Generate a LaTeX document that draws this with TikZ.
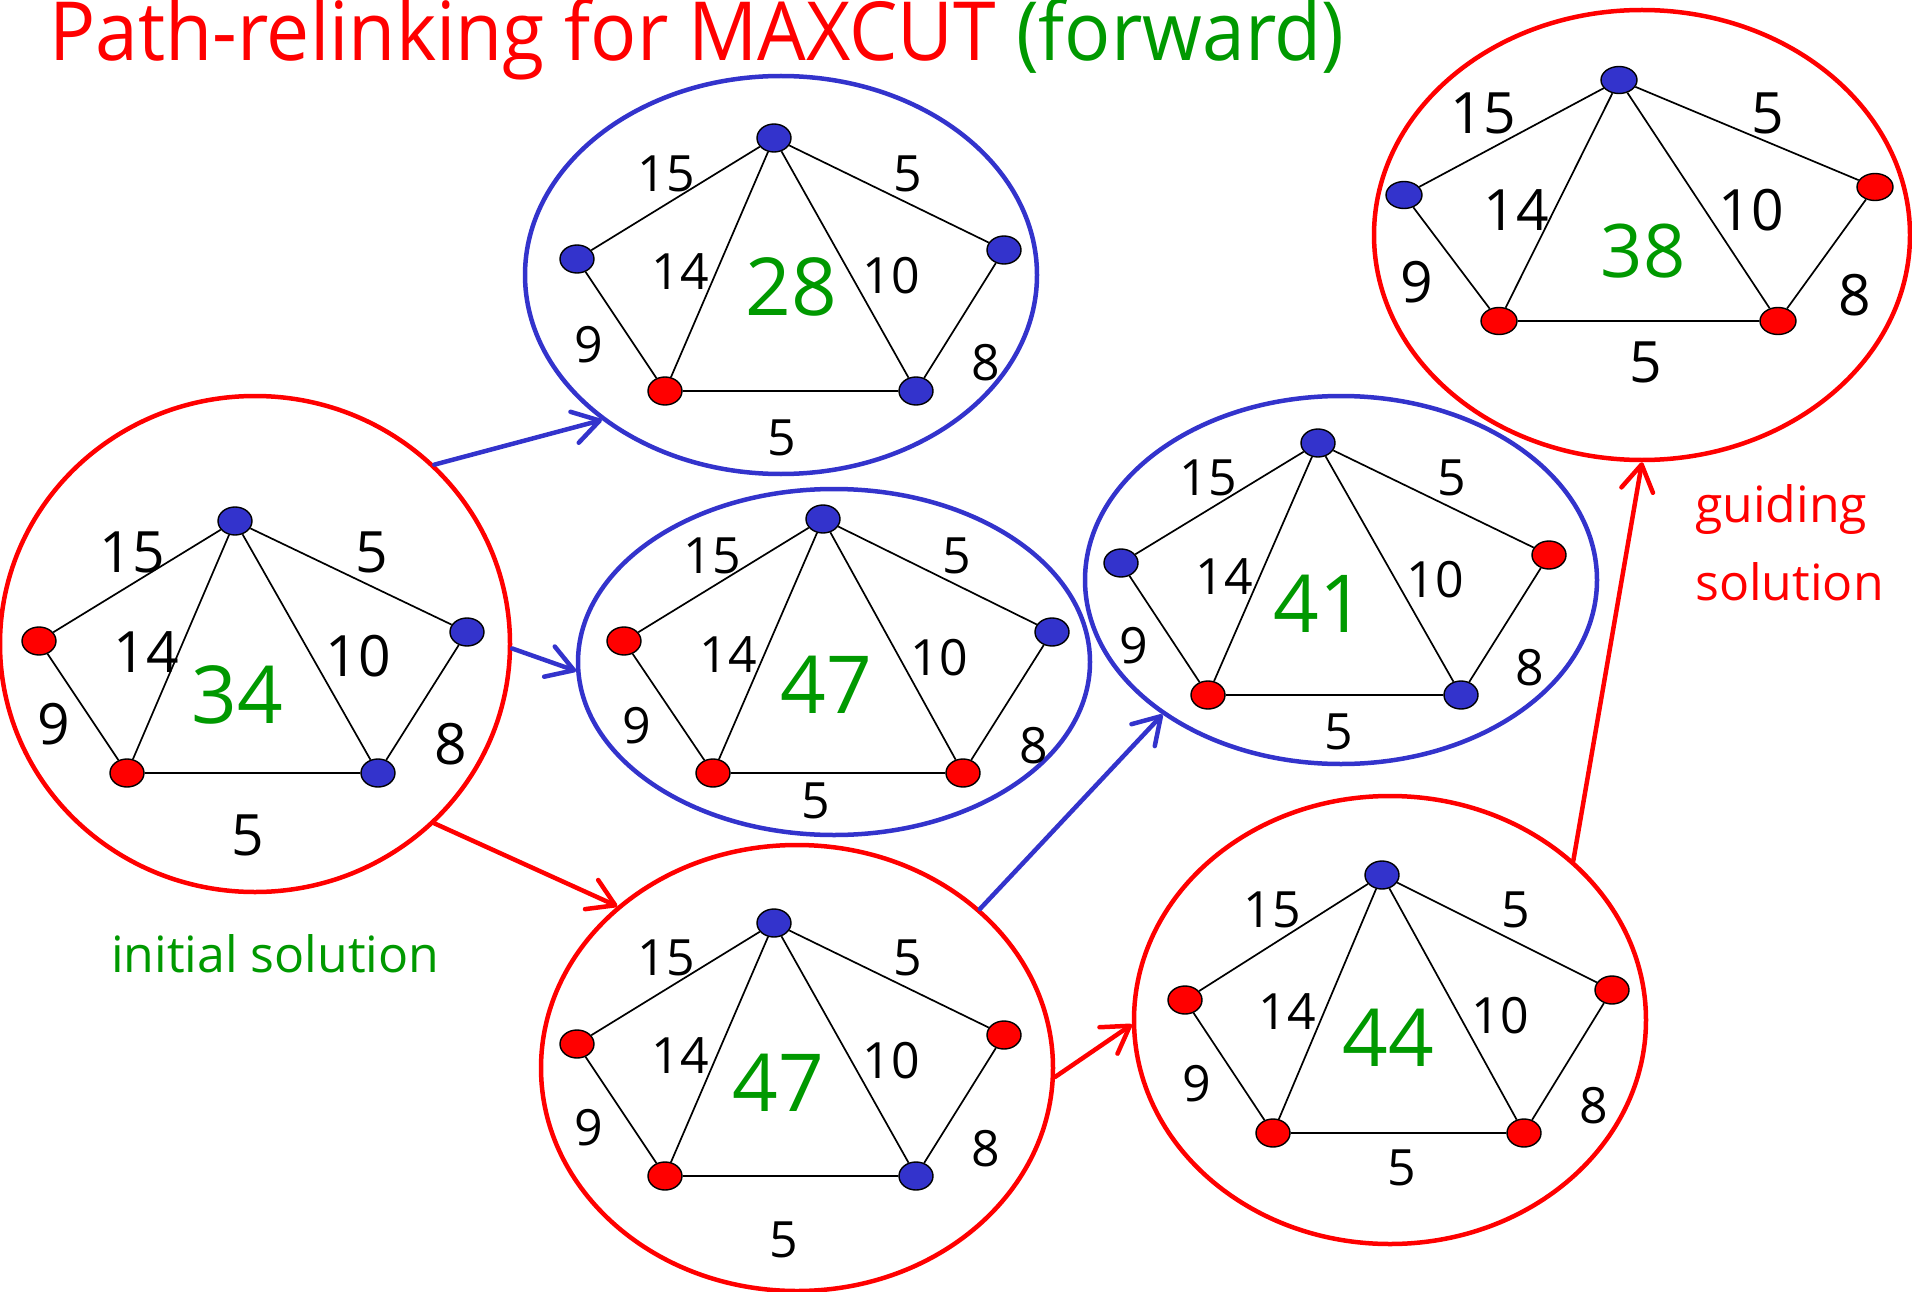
\documentclass[tikz,border=0pt]{standalone}
\usepackage{fontspec}
\setmainfont{Open Sans}
\usepackage{graphicx}
\usetikzlibrary{shapes.geometric,arrows.meta}
\definecolor{myred}{RGB}{255,0,0}
\definecolor{myblue}{RGB}{51,51,204}
\definecolor{grn}{RGB}{0,153,0}
\newcommand{\mcedges}[1]{\draw[gedge] (#1t) -- (#1l) (#1t) -- (#1r) (#1t) -- (#1a) (#1t) -- (#1b) (#1l) -- (#1a) (#1a) -- (#1b) (#1b) -- (#1r);}
\newcommand{\mclabels}[9]{%
 \node[#2] (#1w15) at (#3) {15};
 \node[#2] (#1w5) at (#4) {5};
 \node[#2] (#1w14) at (#5) {14};
 \node[#2] (#1w10) at (#6) {10};
 \node[#2] (#1w9) at (#7) {9};
 \node[#2] (#1w8) at (#8) {8};
 \node[#2] (#1w5b) at (#9) {5};}
\begin{document}
\begin{tikzpicture}[x=1pt,y=-1pt,
 vtx/.style={ellipse, draw=black, line width=1.4pt, minimum width=34pt, minimum height=28pt, inner sep=0pt},
 rv/.style={vtx, fill=myred},
 bv/.style={vtx, fill=myblue},
 gedge/.style={line width=1.7pt, black},
 wl/.style={font=\fontsize{50}{50}\selectfont, inner sep=0pt},
 wlbig/.style={font=\fontsize{57}{57}\selectfont, inner sep=0pt},
 cnum/.style={text=grn, font=\fontsize{80}{80}\selectfont, inner sep=0pt},
 bigell/.style={ellipse, line width=4.5pt, inner sep=0pt},
 redell/.style={bigell, draw=myred},
 blueell/.style={bigell, draw=myblue},
 arr/.style={line width=4.5pt, line cap=round, -{Straight Barb[length=26pt,width=32pt,round]}}]
\useasboundingbox (0,0) rectangle (1912,1292);
\fill[white] (0,0) rectangle (1912,1292);
% title
\node[anchor=base west, inner sep=0pt] (title) at (49,61) {\scalebox{0.96}[1.02]{\fontsize{80}{80}\selectfont\color{myred}Path-relinking for MAXCUT \color{grn}(forward)}};
% big ellipses
\node[redell, minimum width=510pt, minimum height=496pt] (e1) at (255,644) {};
\node[blueell, minimum width=512pt, minimum height=398pt] (e2) at (781,275) {};
\node[blueell, minimum width=512pt, minimum height=346pt] (e3) at (834,662) {};
\node[redell, minimum width=512pt, minimum height=446pt] (e4) at (797,1068) {};
\node[blueell, minimum width=512pt, minimum height=368pt] (e5) at (1341,580) {};
\node[redell, minimum width=512pt, minimum height=448pt] (e6) at (1390,1020) {};
\node[redell, minimum width=536pt, minimum height=450pt] (e7) at (1642,235) {};
% graph 1
\node[bv] (gat) at (235,521) {};
\node[rv] (gal) at (39,641) {};
\node[rv] (gaa) at (127,773) {};
\node[bv] (gab) at (378,773) {};
\node[bv] (gar) at (467,632) {};
\mcedges{ga}
\mclabels{ga}{wlbig}{132,552}{372,552}{146,652}{358,656}{54,724}{451,744}{248,835}
\node[cnum] (gac) at (237,695) {34};
% graph 2
\node[bv] (gbt) at (774,138) {};
\node[bv] (gbl) at (577,259) {};
\node[rv] (gba) at (665,391) {};
\node[bv] (gbb) at (916,391) {};
\node[bv] (gbr) at (1004,250) {};
\mcedges{gb}
\mclabels{gb}{wl}{666,174}{908,174}{680,272}{891,276}{589,345}{986,363}{782,438}
\node[cnum] (gbc) at (791,287) {28};
% graph 3
\node[bv] (gct) at (823,519) {};
\node[rv] (gcl) at (624,641) {};
\node[rv] (gca) at (713,773) {};
\node[rv] (gcb) at (963,773) {};
\node[bv] (gcr) at (1052,632) {};
\mcedges{gc}
\mclabels{gc}{wl}{712,556}{957,556}{728,655}{939,658}{637,726}{1034,746}{816,801}
\node[cnum] (gcc) at (826,685) {47};
% graph 4
\node[bv] (gdt) at (774,923) {};
\node[rv] (gdl) at (577,1044) {};
\node[rv] (gda) at (665,1176) {};
\node[bv] (gdb) at (916,1176) {};
\node[rv] (gdr) at (1004,1035) {};
\mcedges{gd}
\mclabels{gd}{wl}{666,958}{908,958}{680,1056}{891,1061}{589,1128}{986,1149}{784,1240}
\node[cnum] (gdc) at (778,1083) {47};
% graph 5
\node[bv] (get) at (1318,443) {};
\node[bv] (gel) at (1121,563) {};
\node[rv] (gea) at (1208,695) {};
\node[bv] (geb) at (1461,695) {};
\node[rv] (ger) at (1549,555) {};
\mcedges{ge}
\mclabels{ge}{wl}{1208,478}{1452,478}{1224,577}{1435,580}{1134,646}{1530,668}{1339,732}
\node[cnum] (gec) at (1319,604) {41};
% graph 6
\node[bv] (gft) at (1382,875) {};
\node[rv] (gfl) at (1185,1000) {};
\node[rv] (gfa) at (1273,1133) {};
\node[rv] (gfb) at (1524,1133) {};
\node[rv] (gfr) at (1612,990) {};
\mcedges{gf}
\mclabels{gf}{wl}{1272,910}{1516,910}{1287,1012}{1500,1016}{1197,1084}{1594,1106}{1402,1168}
\node[cnum] (gfc) at (1388,1038) {44};
% graph 7
\node[bv, minimum width=36pt, minimum height=27pt] (ggt) at (1619,80) {};
\node[bv, minimum width=36pt, minimum height=27pt] (ggl) at (1404,195) {};
\node[rv, minimum width=36pt, minimum height=27pt] (gga) at (1499,321) {};
\node[rv, minimum width=36pt, minimum height=27pt] (ggb) at (1778,321) {};
\node[rv, minimum width=36pt, minimum height=27pt] (ggr) at (1875,187) {};
\mcedges{gg}
\mclabels{gg}{wlbig}{1483,113}{1768,113}{1516,210}{1751,210}{1417,282}{1855,295}{1646,362}
\node[cnum, font=\fontsize{74}{74}\selectfont] (ggc) at (1643,251) {38};
% arrows
\draw[arr, myblue] (e1.45) -- (e2.219);
\draw[arr, myblue] (e1.-1) -- (e3.182);
\draw[arr, myred] (e1.-45) -- (e4.138);
\draw[arr, myblue] (e4.41) -- (e5.217);
\draw[arr, myred] (e4.-2) -- (e6.181);
\draw[arr, myred] (e6.41) -- (e7.270);
% captions
\node[anchor=base west, text=grn, font=\fontsize{50}{50}\selectfont, inner sep=0pt] (init) at (111,972) {initial solution};
\node[anchor=base west, text=myred, font=\fontsize{50}{50}\selectfont, inner sep=0pt] (guide1) at (1695,522) {guiding};
\node[anchor=base west, text=myred, font=\fontsize{50}{50}\selectfont, inner sep=0pt] (guide2) at (1695,600) {solution};
\end{tikzpicture}
\end{document}
